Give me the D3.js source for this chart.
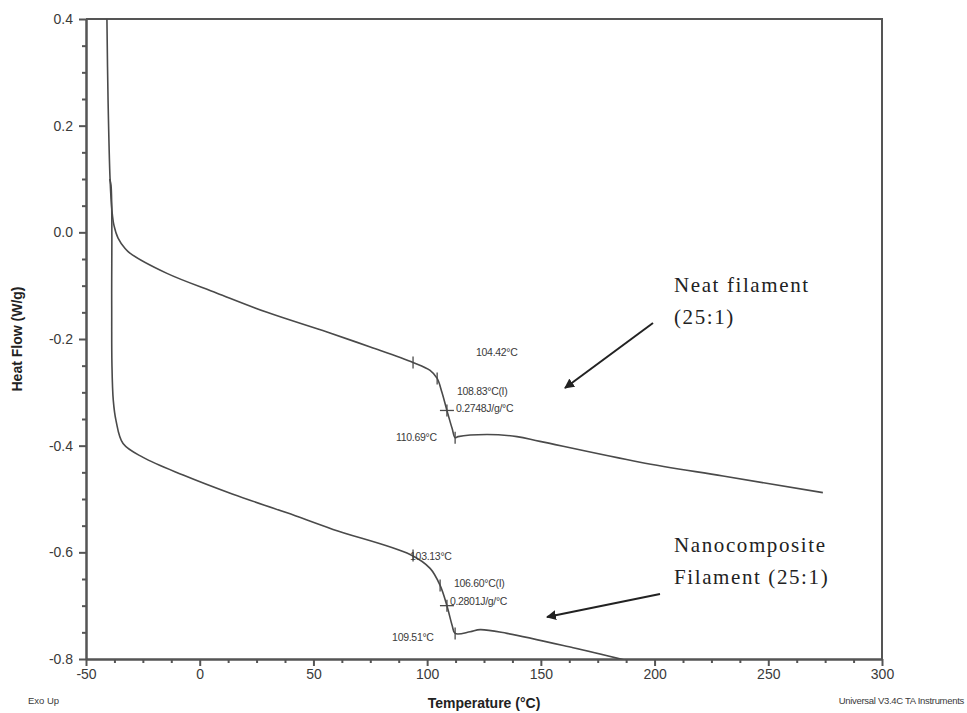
<!DOCTYPE html>
<html lang="en">
<head>
  <meta charset="UTF-8">
  <title>dsc-chart</title>
  <script src="https://cdn.jsdelivr.net/npm/d3@7"></script>
  <style>
    body { margin: 0; background: #fff; }
    svg text { font-family: "Liberation Sans", Arial, sans-serif; }
    .serif { font-family: "Liberation Serif", "Times New Roman", serif !important; }
  </style>
</head>
<body>
<script>
// temperature (°C) vs heat flow (W/g)
let neatTemp = [-40.8, -40.3, -39.4, -38.6, -37.7, -35.9, -32.9, -30.7, -14.4, 7.6, 29.6, 56, 75,
  93.8, 101.3, 104.4, 106.5, 108.7, 111, 112.3, 113.6, 126.3, 139.5, 149.6, 193.6, 230.1, 274];
let neatFlow = [0.40, 0.248, 0.098, 0.041, 0.013, -0.011, -0.030, -0.039, -0.077, -0.114, -0.150, -0.187, -0.215,
  -0.244, -0.259, -0.274, -0.300, -0.334, -0.368, -0.385, -0.383, -0.379, -0.383, -0.392, -0.431, -0.457, -0.488];

let nanoTemp = [-39.6, -39.0, -38.7, -38.6, -38.0, -36.8, -33.7, -24.9, -7.3, 14.6, 38.4, 58.6,
  92.5, 101.3, 105.7, 108.7, 111, 112.3, 118.9, 123.3, 135.1, 164.2, 187.9];
let nanoFlow = [0.100, 0.088, -0.128, -0.246, -0.315, -0.353, -0.396, -0.422, -0.455, -0.491, -0.526, -0.557,
  -0.604, -0.630, -0.662, -0.700, -0.737, -0.752, -0.749, -0.745, -0.752, -0.779, -0.803];

// transition markers (onset, inflection, end)
let neatMarks = [[93.8, -0.244], [104.4, -0.274], [108.7, -0.334], [112.3, -0.385]];
let nanoMarks = [[93.8, -0.606], [105.7, -0.662], [108.7, -0.700], [112.3, -0.752]];

let xTicks = [-50, 0, 50, 100, 150, 200, 250, 300];
let yTicks = [0.4, 0.2, 0.0, -0.2, -0.4, -0.6, -0.8];

let width = 967, height = 713;
let margins = {top: 19, left: 86, right: 85, bottom: 54};
let axisColor = '#555', lineColor = '#4a4a4a', textColor = '#3a3a3a';

let x = d3.scaleLinear().domain([-50, 300]).range([margins.left, width - margins.right]);
let y = d3.scaleLinear().domain([-0.8, 0.4]).range([height - margins.bottom, margins.top]);

let svg = d3.select('body').append('svg')
  .attr('width', width)
  .attr('height', height);

svg.append('defs').append('clipPath')
  .attr('id', 'plot-clip')
  .append('rect')
  .attr('x', x(-50))
  .attr('y', y(0.4))
  .attr('width', x(300) - x(-50))
  .attr('height', y(-0.8) - y(0.4));

// minor ticks
let xMinor = d3.range(-50, 300.1, 12.5).filter(function (d) { return xTicks.indexOf(d) < 0; });
let yMinor = d3.range(-0.8, 0.401, 0.05).filter(function (d) {
  return yTicks.every(function (t) { return Math.abs(t - d) > 1e-6; });
});

svg.append('g')
  .attr('transform', 'translate(0,' + y(-0.8) + ')')
  .call(d3.axisBottom(x).tickValues(xTicks).tickSize(7).tickSizeOuter(0).tickPadding(3)
    .tickFormat(function (d) { return d; }));
svg.append('g')
  .attr('transform', 'translate(0,' + y(-0.8) + ')')
  .call(d3.axisBottom(x).tickValues(xMinor).tickSize(4).tickSizeOuter(0).tickFormat(''));

svg.append('g')
  .attr('transform', 'translate(' + x(-50) + ',0)')
  .call(d3.axisLeft(y).tickValues(yTicks).tickSize(7).tickSizeOuter(0).tickPadding(6)
    .tickFormat(function (d) { return d.toFixed(1); }));
svg.append('g')
  .attr('transform', 'translate(' + x(-50) + ',0)')
  .call(d3.axisLeft(y).tickValues(yMinor).tickSize(4).tickSizeOuter(0).tickFormat(''));

svg.selectAll('.domain, .tick line')
  .attr('stroke', axisColor)
  .attr('stroke-width', 2);
svg.selectAll('.tick text')
  .attr('fill', textColor)
  .style('font-size', '14px');

// top and right frame
svg.append('path')
  .attr('d', 'M' + x(-50) + ',' + y(0.4) + 'H' + x(300) + 'V' + y(-0.8))
  .attr('fill', 'none')
  .attr('stroke', axisColor)
  .attr('stroke-width', 2);

let line = d3.line()
  .x(function (d) { return x(d[0]); })
  .y(function (d) { return y(d[1]); })
  .curve(d3.curveCatmullRom.alpha(0.5));

let bodyG = svg.append('g').attr('clip-path', 'url(#plot-clip)');

[[neatTemp, neatFlow], [nanoTemp, nanoFlow]].forEach(function (s) {
  let pts = s[0].map(function (t, i) { return [t, s[1][i]]; });
  bodyG.append('path')
    .datum(pts)
    .attr('d', line)
    .attr('fill', 'none')
    .attr('stroke', lineColor)
    .attr('stroke-width', 1.6);
});

// small markers on the step
function renderMarks(marks) {
  marks.forEach(function (m, i) {
    let cx = x(m[0]), cy = y(m[1]);
    if (i === 2) {
      bodyG.append('line')
        .attr('x1', cx - 7).attr('x2', cx + 7).attr('y1', cy).attr('y2', cy)
        .attr('stroke', lineColor).attr('stroke-width', 1.3);
    }
    bodyG.append('line')
      .attr('x1', cx).attr('x2', cx).attr('y1', cy - 6).attr('y2', cy + 6)
      .attr('stroke', lineColor).attr('stroke-width', 1.3);
  });
}
renderMarks(neatMarks);
renderMarks(nanoMarks);

// annotation text
let notes = [
  ['104.42°C', 121.5, -0.225],
  ['108.83°C(I)', 113.1, -0.298],
  ['0.2748J/g/°C', 112.7, -0.330],
  ['110.69°C', 86.3, -0.385],
  ['103.13°C', 92.5, -0.608],
  ['106.60°C(I)', 111.8, -0.659],
  ['0.2801J/g/°C', 110.0, -0.692],
  ['109.51°C', 84.6, -0.760]
];
svg.selectAll('text.note')
  .data(notes)
  .enter()
  .append('text')
  .attr('class', 'note')
  .attr('x', function (d) { return x(d[1]); })
  .attr('y', function (d) { return y(d[2]); })
  .attr('dy', '0.35em')
  .attr('fill', textColor)
  .style('font-size', '10.5px')
  .style('letter-spacing', '-0.3px')
  .text(function (d) { return d[0]; });

// series labels with arrows
svg.append('defs').append('marker')
  .attr('id', 'arrow')
  .attr('viewBox', '0 0 10 10')
  .attr('refX', 9).attr('refY', 5)
  .attr('markerWidth', 5).attr('markerHeight', 5)
  .attr('orient', 'auto')
  .append('path')
  .attr('d', 'M0,0L10,5L0,10z')
  .attr('fill', '#222');

let labels = [
  [['Neat filament', '(25:1)'], 674, 285, [653, 323], [565, 388]],
  [['Nanocomposite', 'Filament (25:1)'], 674, 545, [660, 594], [547, 617]]
];
labels.forEach(function (l) {
  let t = svg.append('text')
    .attr('class', 'serif')
    .attr('x', l[1])
    .attr('y', l[2])
    .attr('fill', '#222')
    .style('font-size', '21px')
    .style('letter-spacing', '1.6px');
  l[0].forEach(function (s, i) {
    t.append('tspan')
      .attr('x', l[1])
      .attr('dy', i === 0 ? '0.35em' : '32px')
      .text(s);
  });
  svg.append('line')
    .attr('x1', l[3][0]).attr('y1', l[3][1])
    .attr('x2', l[4][0]).attr('y2', l[4][1])
    .attr('stroke', '#222')
    .attr('stroke-width', 2)
    .attr('marker-end', 'url(#arrow)');
});

// axis titles
svg.append('text')
  .attr('transform', 'translate(22,' + y(-0.2) + ') rotate(-90)')
  .attr('text-anchor', 'middle')
  .attr('fill', '#222')
  .style('font-size', '14px')
  .style('font-weight', 'bold')
  .text('Heat Flow (W/g)');

svg.append('text')
  .attr('x', x(125))
  .attr('y', 708)
  .attr('text-anchor', 'middle')
  .attr('fill', '#222')
  .style('font-size', '14px')
  .style('font-weight', 'bold')
  .text('Temperature (°C)');

svg.append('text')
  .attr('x', 28)
  .attr('y', 704)
  .attr('fill', textColor)
  .style('font-size', '9.5px')
  .text('Exo Up');

svg.append('text')
  .attr('x', 964)
  .attr('y', 704)
  .attr('text-anchor', 'end')
  .attr('fill', textColor)
  .style('font-size', '9.5px')
  .style('letter-spacing', '-0.3px')
  .text('Universal V3.4C TA Instruments');
</script>
</body>
</html>
